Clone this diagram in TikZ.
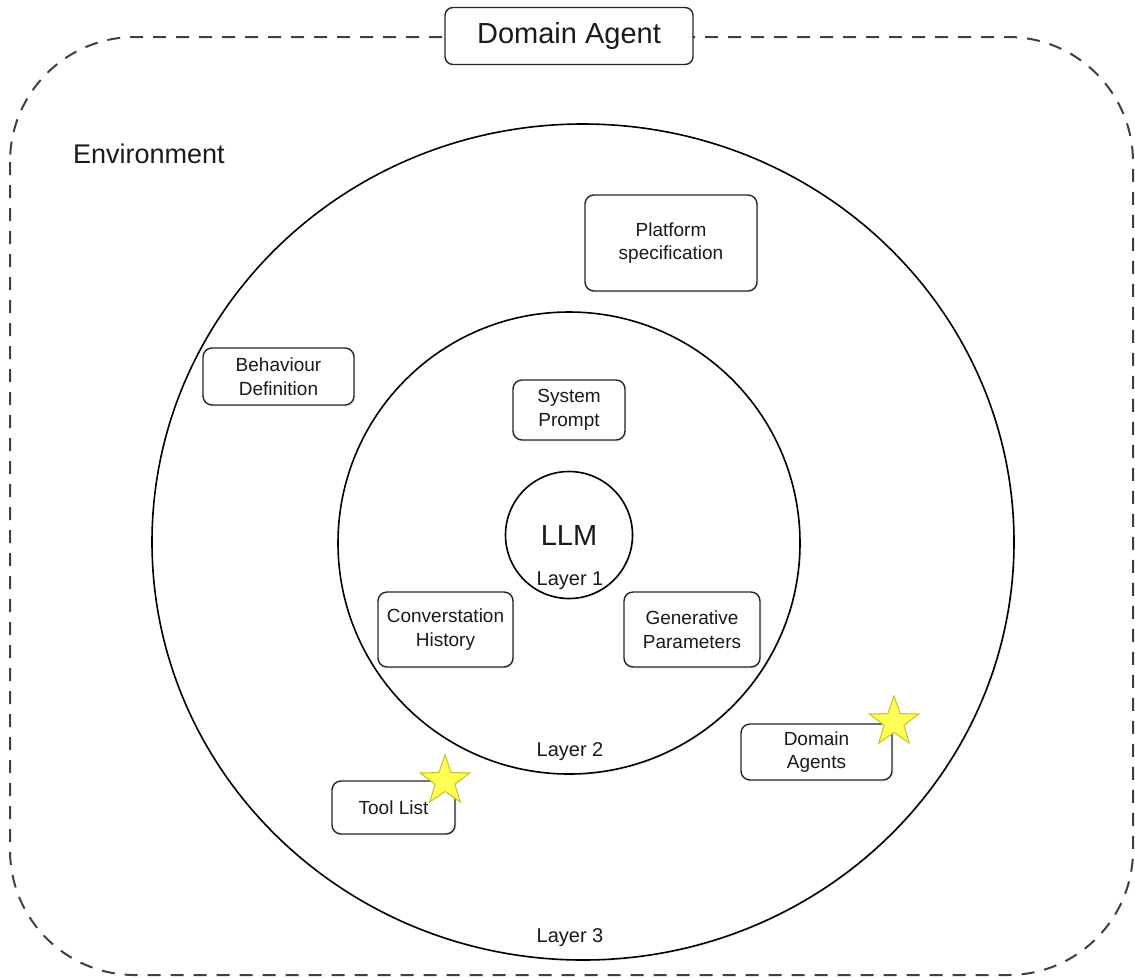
\documentclass[tikz,border=0pt]{standalone}
\usepackage{fontspec}
\setmainfont{Liberation Sans}
\usetikzlibrary{shapes.geometric,shadows}
\definecolor{ink}{HTML}{1A1A1A}
\definecolor{starfill}{HTML}{FFFF55}
\definecolor{starline}{HTML}{C8C020}
\tikzset{
  ring/.style={draw=black, line width=1.6pt, fill=white, inner sep=0pt,
    drop shadow={opacity=0.12, shadow xshift=1.5pt, shadow yshift=-1.5pt}},
  itembox/.style={draw=black!85, line width=1.4pt, rounded corners=9pt, fill=white,
    align=center, inner sep=0pt, text=ink,
    font=\fontsize{19}{23.5}\selectfont,
    drop shadow={opacity=0.12, shadow xshift=1.5pt, shadow yshift=-1.5pt}},
  layerlabel/.style={text=ink, font=\fontsize{20}{24}\selectfont, inner sep=0pt},
  badge/.style={star, star points=5, star point ratio=2.5, minimum size=52pt,
    inner sep=0pt, fill=starfill, draw=starline, line width=1pt},
}
\begin{document}
\begin{tikzpicture}[x=1pt, y=-1pt]
\useasboundingbox (0,0) rectangle (1135,978);

% dashed agent boundary
\draw[black!75, line width=2pt, dash pattern=on 13pt off 10pt, rounded corners=125pt]
  (10,37) rectangle (1133,975);

% nested layers
\node[ring, ellipse, minimum width=862pt, minimum height=836pt] (l3) at (583,542) {};
\node[ring, circle, minimum size=462pt] (l2) at (569,543) {};
\node[ring, circle, minimum size=127pt] (l1) at (569,535) {};

\node[text=ink, font=\fontsize{29}{34}\selectfont, inner sep=0pt] (llm) at (569,536) {LLM};
\node[layerlabel] (lab1) at (570,581) {Layer 1};
\node[layerlabel] (lab2) at (570,752) {Layer 2};
\node[layerlabel] (lab3) at (570,938) {Layer 3};

% title and environment label
\node[draw=black!85, line width=1.4pt, rounded corners=8pt, fill=white, text=ink,
  minimum width=248pt, minimum height=57pt, inner sep=0pt,
  font=\fontsize{29}{34}\selectfont] (title) at (569,36) {Domain Agent};
\node[text=ink, font=\fontsize{27}{32}\selectfont, inner sep=0pt, anchor=west]
  (env) at (73,154) {Environment};

% components
\node[itembox, minimum width=172pt, minimum height=96pt] (platform) at (671,243) {Platform\\specification};
\node[itembox, minimum width=151pt, minimum height=57pt] (behaviour) at (278.5,376.5) {Behaviour\\Definition};
\node[itembox, minimum width=112pt, minimum height=60pt] (sysprompt) at (569,410) {System\\Prompt};
\node[itembox, minimum width=135pt, minimum height=75pt] (history) at (445.5,629.5) {Converstation\\History};
\node[itembox, minimum width=136pt, minimum height=75pt] (genparams) at (692,629.5) {Generative\\Parameters};
\node[itembox, minimum width=151pt, minimum height=56pt] (agents) at (816.5,752) {Domain\\Agents};
\node[itembox, minimum width=123pt, minimum height=53pt] (tools) at (393.5,807.5) {Tool List};

% highlight stars
\node[badge] (startools) at (445,781) {};
\node[badge] (staragents) at (894,722) {};
\end{tikzpicture}
\end{document}
